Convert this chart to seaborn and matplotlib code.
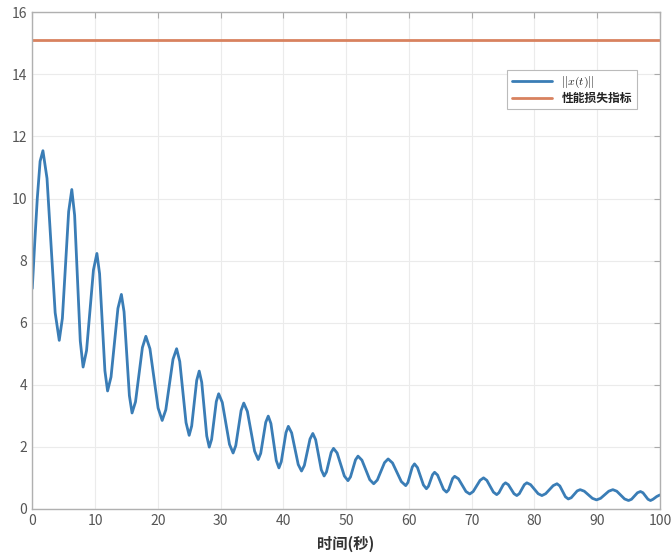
import matplotlib
matplotlib.use("Agg")
import matplotlib.pyplot as plt
import seaborn as sns
import pandas as pd

# readings of ||x(t)|| from the picture: time (s)
t_vals = [0, 0.4, 0.8, 1.25, 1.7, 2.35, 3.65, 4.3, 4.8, 5.8, 6.3, 6.75, 7.65, 8.1,
          8.65, 9.75, 10.3, 10.725, 11.575, 12.0, 12.55, 13.65, 14.2, 14.625, 15.475,
          15.9, 16.45, 17.55, 18.1, 18.75, 20.05, 20.7, 21.275, 22.425, 23.0, 23.5,
          24.5, 25.0, 25.4, 26.2, 26.6, 27.0, 27.8, 28.2, 28.575, 29.325, 29.7,
          30.275, 31.425, 32.0, 32.425, 33.275, 33.7, 34.275, 35.425, 36.0, 36.4,
          37.2, 37.6, 38.025, 38.875, 39.3, 39.675, 40.425, 40.8, 41.325, 42.375,
          42.9, 43.35, 44.25, 44.7, 45.15, 46.05, 46.5, 46.875, 47.625, 48.0, 48.575,
          49.725, 50.3, 50.7, 51.5, 51.9, 52.525, 53.775, 54.4, 54.975, 56.125, 56.7,
          57.4, 58.8, 59.5, 59.85, 60.55, 60.9, 61.375, 62.325, 62.8, 63.125, 63.775,
          64.1, 64.575, 65.525, 66.0, 66.325, 66.975, 67.3, 67.9, 69.1, 69.7, 70.25,
          71.35, 71.9, 72.425, 73.475, 74.0, 74.35, 75.05, 75.4, 75.85, 76.75, 77.2,
          77.6, 78.4, 78.8, 79.4, 80.6, 81.2, 81.8, 83.0, 83.6, 84.05, 84.95, 85.4,
          85.875, 86.825, 87.3, 87.95, 89.25, 89.9, 90.55, 91.85, 92.5, 93.125,
          94.375, 95.0, 95.475, 96.425, 96.9, 97.3, 98.1, 98.5, 98.9, 99.5, 100]
# readings of ||x(t)|| from the picture: value
x_norm = [7.1, 8.6, 10.0, 11.2, 11.54, 10.65, 6.32, 5.43, 6.14, 9.58, 10.29, 9.46, 5.41, 4.57,
          5.10, 7.70, 8.23, 7.58, 4.45, 3.80, 4.25, 6.46, 6.91, 6.35, 3.65,
          3.09, 3.45, 5.20, 5.56, 5.16, 3.25, 2.85, 3.19, 4.82, 5.16, 4.75,
          2.78, 2.37, 2.67, 4.14, 4.44, 4.08, 2.35, 1.99, 2.24, 3.46, 3.71,
          3.43, 2.08, 1.80, 2.04, 3.17, 3.41, 3.14, 1.86, 1.59, 1.79,
          2.79, 2.99, 2.75, 1.56, 1.32, 1.52, 2.46, 2.66, 2.45, 1.43,
          1.22, 1.40, 2.25, 2.43, 2.23, 1.26, 1.06, 1.19, 1.82, 1.95, 1.80,
          1.06, 0.91, 1.03, 1.58, 1.70, 1.57, 0.94, 0.81, 0.93, 1.49, 1.61,
          1.48, 0.88, 0.75, 0.85, 1.35, 1.45, 1.33, 0.77, 0.65, 0.73, 1.10,
          1.18, 1.09, 0.63, 0.54, 0.61, 0.98, 1.05, 0.97, 0.56, 0.48, 0.56,
          0.92, 1.00, 0.92, 0.54, 0.46, 0.52, 0.78, 0.84, 0.78, 0.49, 0.43,
          0.49, 0.78, 0.84, 0.78, 0.49, 0.43, 0.49, 0.75, 0.81, 0.74, 0.39, 0.32,
          0.36, 0.58, 0.62, 0.57, 0.34, 0.29, 0.34, 0.57, 0.62, 0.57,
          0.32, 0.27, 0.31, 0.52, 0.56, 0.52, 0.31, 0.27, 0.31, 0.40, 0.45]

# performance loss index (constant)
t_ref = [0, 100]
loss_ref = [15.1, 15.1]

labels = [r"$||x(t)||$", "性能损失指标"]
x_ticks = [0, 10, 20, 30, 40, 50, 60, 70, 80, 90, 100]
y_ticks = [0, 2, 4, 6, 8, 10, 12, 14, 16]

sns.set_style("white")
plt.rcParams['font.family'] = ['Noto Sans CJK SC', 'DejaVu Sans']
plt.rcParams['mathtext.fontset'] = 'cm'

fig = plt.figure(figsize=(6.72, 5.58), dpi=100)
ax = fig.add_axes([0.048, 0.088, 0.934, 0.89])

df1 = pd.DataFrame({"t": t_vals, "v": x_norm})
df2 = pd.DataFrame({"t": t_ref, "v": loss_ref})
sns.lineplot(data=df1, x="t", y="v", ax=ax, color="#3a7db6", lw=2.0, label=labels[0],
             estimator=None, sort=False)
sns.lineplot(data=df2, x="t", y="v", ax=ax, color="#d8825f", lw=2.0, label=labels[1])

ax.set_xlim(0, 100)
ax.set_ylim(0, 16)
ax.set_xticks(x_ticks)
ax.set_yticks(y_ticks)
ax.grid(True, color="#ebebeb", lw=0.8)
ax.tick_params(direction="in", top=True, right=True, length=4, colors="#aaaaaa",
               labelcolor="#555555", labelsize=10)
for s in ax.spines.values():
    s.set_color("#b0b0b0")
    s.set_linewidth(1.0)
ax.set_ylabel("")
ax.set_xlabel("时间(秒)", fontsize=11, fontweight="bold", color="#333333", labelpad=6)

leg = ax.legend(loc="upper right", bbox_to_anchor=(0.963, 0.884), fontsize=8.5,
                frameon=True, fancybox=False, framealpha=1, edgecolor="#bbbbbb",
                handlelength=3.4, borderpad=0.4, labelspacing=0.15, borderaxespad=0)
leg.get_frame().set_linewidth(0.8)
for txt in leg.get_texts():
    txt.set_color("#222222")
leg.get_texts()[1].set_fontweight("bold")

fig.savefig("out.png", dpi=100)
